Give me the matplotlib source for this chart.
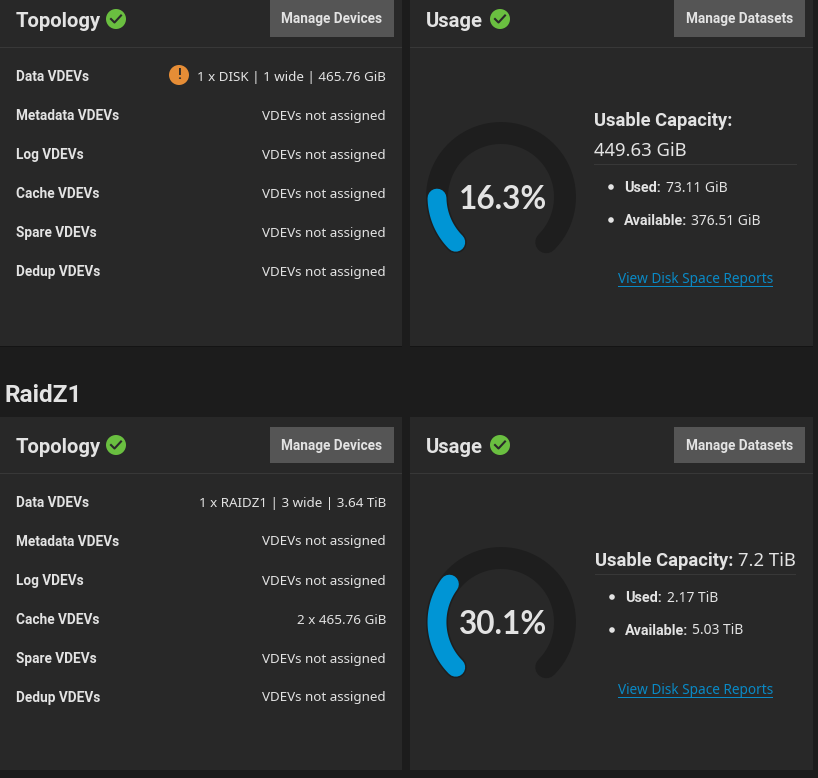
import numpy as np
import matplotlib
matplotlib.use("Agg")
import matplotlib.pyplot as plt
from matplotlib.patches import Rectangle, Circle

# data
row_labels = ["Data VDEVs", "Metadata VDEVs", "Log VDEVs", "Cache VDEVs", "Spare VDEVs", "Dedup VDEVs"]
not_assigned = "VDEVs not assigned"
top_values = ["1 x DISK | 1 wide | 465.76 GiB", not_assigned, not_assigned, not_assigned, not_assigned, not_assigned]
raid_values = ["1 x RAIDZ1 | 3 wide | 3.64 TiB", not_assigned, not_assigned, "2 x 465.76 GiB", not_assigned, not_assigned]
used_pct = [16.3, 30.1]
used_text = ["73.11 GiB", "2.17 TiB"]
avail_text = ["376.51 GiB", "5.03 TiB"]
capacity_text = ["449.63 GiB", "7.2 TiB"]

PAGE = "#1c1c1c"
CARD = "#282828"
LINE = "#383838"
TRACK = "#1e1e1e"
BLUE = "#0095d5"
TEXT = "#e3e3e3"
HEAD = "Roboto"
BODY = "Noto Sans"

fig = plt.figure(figsize=(8.18, 7.78), dpi=100, facecolor=PAGE)
ax = fig.add_axes([0, 0, 1, 1])
ax.set_xlim(0, 818)
ax.set_ylim(778, 0)
ax.axis("off")


def rect(x0, y0, x1, y1, color):
    ax.add_patch(Rectangle((x0, y0), x1 - x0, y1 - y0, facecolor=color, edgecolor="none"))


def check_icon(x, y):
    ax.add_patch(Circle((x, y), 10, facecolor="#6abf40", edgecolor="none"))
    ax.plot([x - 5, x - 1.5, x + 5], [y, y + 3.5, y - 3.5], color="#2a2a2a", lw=1.5)


def button(x0, x1, y0, y1, label):
    rect(x0, y0, x1, y1, "#555555")
    ax.text((x0 + x1) / 2, (y0 + y1) / 2 + 0.5, label, color=TEXT, fontsize=9.8, fontweight="bold",
            family=HEAD, ha="center", va="center")


def gauge(cx, cy, pct):
    r = 64
    start = np.radians(225)
    full = np.radians(270)
    t = np.linspace(start, start - full, 200)
    ax.plot(cx + r * np.cos(t), cy - r * np.sin(t), color=TRACK, lw=15.8, solid_capstyle="round")
    t = np.linspace(start, start - full * pct / 100, 100)
    ax.plot(cx + r * np.cos(t), cy - r * np.sin(t), color=BLUE, lw=13.6, solid_capstyle="round")
    ax.text(cx + 2, cy + 2, f"{pct}%", color=TEXT, fontsize=22.7, fontweight="bold", family="Lato",
            ha="center", va="center")


def topology(y_off, values, btn_top, btn_bot):
    ax.text(16, 21.5 + y_off, "Topology", color=TEXT, fontsize=14.6, fontweight="bold", family=HEAD, va="center")
    check_icon(116, 19 + y_off)
    button(270, 394, btn_top, btn_bot, "Manage Devices")
    rect(0, 47 + y_off, 402, 48 + y_off, LINE)
    for i, (lab, val) in enumerate(zip(row_labels, values)):
        y = 77 + y_off + 39 * i
        ax.text(16, y, lab, color=TEXT, fontsize=9.8, fontweight="bold", family=HEAD, va="center")
        ax.text(386, y, val, color=TEXT, fontsize=9.65, family=BODY, ha="right", va="center")


def usage(y_off, btn_top, btn_bot):
    ax.text(426, 21.5 + y_off, "Usage", color=TEXT, fontsize=14.6, fontweight="bold", family=HEAD, va="center")
    check_icon(500, 19 + y_off)
    button(674, 805, btn_top, btn_bot, "Manage Datasets")
    rect(410, 47 + y_off, 813, 48 + y_off, LINE)


# cards
rect(0, 0, 402, 346, CARD)
rect(410, 0, 813, 346, CARD)
rect(0, 417, 402, 770, CARD)
rect(410, 417, 813, 770, CARD)
rect(0, 346, 402, 347, "#141414")
rect(410, 346, 813, 347, "#141414")

ax.text(5, 395, "RaidZ1", color=TEXT, fontsize=17.6, fontweight="bold", family=HEAD, va="center")

topology(0, top_values, 0, 37)
topology(426, raid_values, 427, 463)
usage(0, 0, 37)
usage(426, 427, 463)

# warning icon on the first row
ax.add_patch(Circle((179, 75), 10, facecolor="#e68d36", edgecolor="none"))
ax.text(179, 75, "!", color="#2a2a2a", fontsize=10, fontweight="bold", family=HEAD, ha="center", va="center")

gauge(501, 197, used_pct[0])
gauge(501, 622, used_pct[1])

# usable capacity, top card wraps on two lines
ax.text(594, 121, "Usable Capacity:", color=TEXT, fontsize=13.2, fontweight="bold", family=HEAD, va="center")
ax.text(594, 150.5, capacity_text[0], color=TEXT, fontsize=13.3, family=BODY, va="center")
rect(594, 164, 797, 165, LINE)
ax.text(595, 561, "Usable Capacity:", color=TEXT, fontsize=13.2, fontweight="bold", family=HEAD, va="center")
ax.text(796, 561, capacity_text[1], color=TEXT, fontsize=13.3, family=BODY, ha="right", va="center")
rect(595, 574, 796, 575, LINE)

for k, (y_used, y_avail, x0, x_used, x_avail) in enumerate([(187, 220, 624, 666, 691), (597, 630, 625, 667, 692)]):
    for y in (y_used, y_avail):
        ax.add_patch(Circle((x0 - 13, y), 2.8, facecolor=TEXT, edgecolor="none"))
    ax.text(x0, y_used + 1, "Used:", color=TEXT, fontsize=10.4, fontweight="bold", family=HEAD, va="center")
    ax.text(x_used, y_used + 1, used_text[k], color=TEXT, fontsize=10, family=BODY, va="center")
    ax.text(x0, y_avail + 1, "Available:", color=TEXT, fontsize=10.4, fontweight="bold", family=HEAD, va="center")
    ax.text(x_avail, y_avail + 1, avail_text[k], color=TEXT, fontsize=10, family=BODY, va="center")

for y in (278, 689):
    ax.text(695.5, y + 1, "View Disk Space Reports", color="#0a8ac6", fontsize=9.8, family=BODY, ha="center", va="center")
    rect(618, y + 8, 773, y + 9, "#0a8ac6")

fig.savefig("out.png", dpi=100, facecolor=PAGE)
